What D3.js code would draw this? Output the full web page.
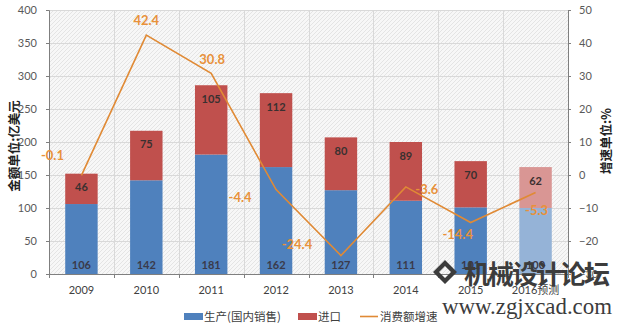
<!DOCTYPE html>
<html><head><meta charset="utf-8">
<script src="https://cdn.jsdelivr.net/npm/d3@7"></script>
<style>body{margin:0;background:#fff}</style>
</head><body><svg id="c" width="619" height="328"></svg>
<script>
const categories = ["2009","2010","2011","2012","2013","2014","2015","2016预测"];
const production = [106,142,181,162,127,111,101,100];
const imports = [46,75,105,112,80,89,70,62];
const growth = [-0.1,42.4,30.8,-4.4,-24.4,-3.6,-14.4,-5.3];
const leftTicks = [0,50,100,150,200,250,300,350,400];
const rightTicks = [-30,-20,-10,0,10,20,30,40,50];
const seriesNames = ["生产(国内销售)","进口","消费额增速"];
const leftTitle = "金额单位:亿美元";
const rightTitle = "增速单位:%";
const forecastIndex = 7;
// label offsets for growth labels (layout only)
const growthLabelOffsets = [[-29,-20],[0,-15],[1,-14],[-36,7],[-44,-12],[21,2],[-13,11],[1,18]];

const W = 619, H = 328;
const m = {l:49, r:51, t:10, b:54};
const svg = d3.select("#c");
const num = "Lato, 'Liberation Sans', sans-serif";
const cjk = "'Noto Sans CJK SC', sans-serif";

const x = d3.scaleBand().domain(categories).range([m.l, W-m.r]).paddingInner(0.5).paddingOuter(0.25);
const yL = d3.scaleLinear().domain([0,400]).range([H-m.b, m.t]);
const yR = d3.scaleLinear().domain([-30,50]).range([H-m.b, m.t]);
const bandFull = (W-m.l-m.r)/categories.length;

// hatch background
const defs = svg.append("defs");
const pat = defs.append("pattern").attr("id","hatch").attr("patternUnits","userSpaceOnUse").attr("width",4).attr("height",4);
pat.append("rect").attr("width",4).attr("height",4).attr("fill","#f7f7f7");
pat.append("path").attr("d","M-1,1 l2,-2 M0,4 l4,-4 M3,5 l2,-2").attr("stroke","#e4e4e4").attr("stroke-width",1);
svg.append("rect").attr("x",m.l).attr("y",m.t).attr("width",W-m.l-m.r).attr("height",H-m.t-m.b).attr("fill","url(#hatch)");

// grid
svg.append("g").selectAll("line").data(leftTicks.filter(d=>d>0)).join("line")
  .attr("x1",m.l).attr("x2",W-m.r).attr("y1",d=>Math.round(yL(d))+0.5).attr("y2",d=>Math.round(yL(d))+0.5)
  .attr("stroke","#d9d9d9");
svg.append("g").selectAll("line").data(d3.range(1,categories.length)).join("line")
  .attr("x1",i=>Math.round(m.l+i*bandFull)+0.5).attr("x2",i=>Math.round(m.l+i*bandFull)+0.5)
  .attr("y1",m.t).attr("y2",H-m.b).attr("stroke","#d9d9d9");

// bars
const stackData = categories.map((c,i)=>({cat:c, prod:production[i], imp:imports[i], i}));
const bars = svg.append("g");
bars.selectAll("rect.p").data(stackData).join("rect").attr("class","p")
  .attr("x",d=>x(d.cat)).attr("width",x.bandwidth())
  .attr("y",d=>yL(d.prod)).attr("height",d=>yL(0)-yL(d.prod))
  .attr("fill",d=>d.i===forecastIndex?"#95b3d7":"#4f81bd");
bars.selectAll("rect.m").data(stackData).join("rect").attr("class","m")
  .attr("x",d=>x(d.cat)).attr("width",x.bandwidth())
  .attr("y",d=>yL(d.prod+d.imp)).attr("height",d=>yL(d.prod)-yL(d.prod+d.imp))
  .attr("fill",d=>d.i===forecastIndex?"#d99694":"#c0504d");
bars.selectAll("text.p").data(stackData).join("text").attr("class","p")
  .attr("x",d=>x(d.cat)+x.bandwidth()/2).attr("y",d=>yL(0)-10)
  .attr("text-anchor","middle").attr("dominant-baseline","central")
  .attr("font-family",num).attr("font-weight","bold").attr("font-size",11).attr("fill","#3a3a4a")
  .text(d=>d.prod);
bars.selectAll("text.m").data(stackData).join("text").attr("class","m")
  .attr("x",d=>x(d.cat)+x.bandwidth()/2).attr("y",d=>yL(d.prod+d.imp)+13)
  .attr("text-anchor","middle").attr("dominant-baseline","central")
  .attr("font-family",num).attr("font-weight","bold").attr("font-size",11).attr("fill","#3a3030")
  .text(d=>d.imp);

// axes
const axCol = "#595959";
const gL = svg.append("g").attr("transform",`translate(${m.l},0)`)
  .call(d3.axisLeft(yL).tickValues(leftTicks).tickSize(3).tickPadding(9));
const gR = svg.append("g").attr("transform",`translate(${W-m.r},0)`)
  .call(d3.axisRight(yR).tickValues(rightTicks).tickSize(3).tickPadding(8));
[gL,gR].forEach(g=>{
  g.select(".domain").attr("stroke","#7f7f7f");
  g.selectAll(".tick line").attr("stroke","#7f7f7f");
  g.selectAll(".tick text").attr("font-family",num).attr("font-size",11).attr("fill",axCol);
});
const gB = svg.append("g").attr("transform",`translate(0,${H-m.b})`)
  .call(d3.axisBottom(x).tickSize(0).tickPadding(12));
gB.select(".domain").attr("stroke","#7f7f7f");
gB.selectAll(".tick text").attr("font-family",num+","+cjk).attr("font-size",11).attr("fill","#404040");
gB.selectAll("line.sep").data(d3.range(0,categories.length+1)).join("line").attr("class","sep")
  .attr("x1",i=>Math.round(m.l+i*bandFull)+0.5).attr("x2",i=>Math.round(m.l+i*bandFull)+0.5)
  .attr("y1",0).attr("y2",4).attr("stroke","#7f7f7f");

// line
const lineCol = "#e08a35";
const pts = categories.map((c,i)=>[x(c)+x.bandwidth()/2, yR(growth[i])]);
svg.append("path").datum(pts).attr("d",d3.line()).attr("fill","none")
  .attr("stroke",lineCol).attr("stroke-width",1.6);
svg.append("g").selectAll("text").data(growth).join("text")
  .attr("x",(d,i)=>pts[i][0]+growthLabelOffsets[i][0]).attr("y",(d,i)=>pts[i][1]+growthLabelOffsets[i][1])
  .attr("text-anchor","middle").attr("dominant-baseline","central")
  .attr("font-family",num).attr("font-weight","bold").attr("font-size",13).attr("fill","#e8913a")
  .text(d=>d);

// axis titles
svg.append("text").attr("transform",`translate(13,${(m.t+H-m.b)/2+4}) rotate(-90)`)
  .attr("text-anchor","middle").attr("dominant-baseline","central")
  .attr("font-family",cjk).attr("font-weight","bold").attr("font-size",12.5).attr("fill","#222")
  .text(leftTitle);
svg.append("text").attr("transform",`translate(605,${(m.t+H-m.b)/2-1}) rotate(-90)`)
  .attr("text-anchor","middle").attr("dominant-baseline","central")
  .attr("font-family",cjk).attr("font-weight","bold").attr("font-size",12.5).attr("fill","#222")
  .text(rightTitle);

// legend
const lg = svg.append("g").attr("font-family",cjk).attr("font-size",11.5).attr("fill","#404040");
const ly = 316;
lg.append("rect").attr("x",184).attr("y",ly-3).attr("width",19).attr("height",7).attr("fill","#4f81bd");
lg.append("text").attr("x",204).attr("y",ly).attr("dominant-baseline","central").text(seriesNames[0]);
lg.append("rect").attr("x",298).attr("y",ly-3).attr("width",19).attr("height",7).attr("fill","#c0504d");
lg.append("text").attr("x",318).attr("y",ly).attr("dominant-baseline","central").text(seriesNames[1]);
lg.append("line").attr("x1",360).attr("x2",378).attr("y1",ly+0.5).attr("y2",ly+0.5).attr("stroke",lineCol).attr("stroke-width",1.6);
lg.append("text").attr("x",380).attr("y",ly).attr("dominant-baseline","central").text(seriesNames[2]);

// watermark (overlay in the reference image)
const wm = svg.append("g").attr("fill","#3c3c3c");
wm.append("path").attr("d","M445,260 l12,12 l-12,12 l-12,-12 Z M445,266 l6,6 l-6,6 l-6,-6 Z").attr("fill-rule","evenodd");
wm.append("text").attr("x",464).attr("y",284).attr("font-family",cjk).attr("font-size",26)
  .attr("textLength",146).attr("font-weight","bold").text("机械设计论坛");
wm.append("text").attr("x",442).attr("y",314).attr("font-family","'Liberation Serif', serif").attr("font-size",24)
  .attr("textLength",170).attr("lengthAdjust","spacingAndGlyphs").text("www.zgjxcad.com");
</script></body></html>
